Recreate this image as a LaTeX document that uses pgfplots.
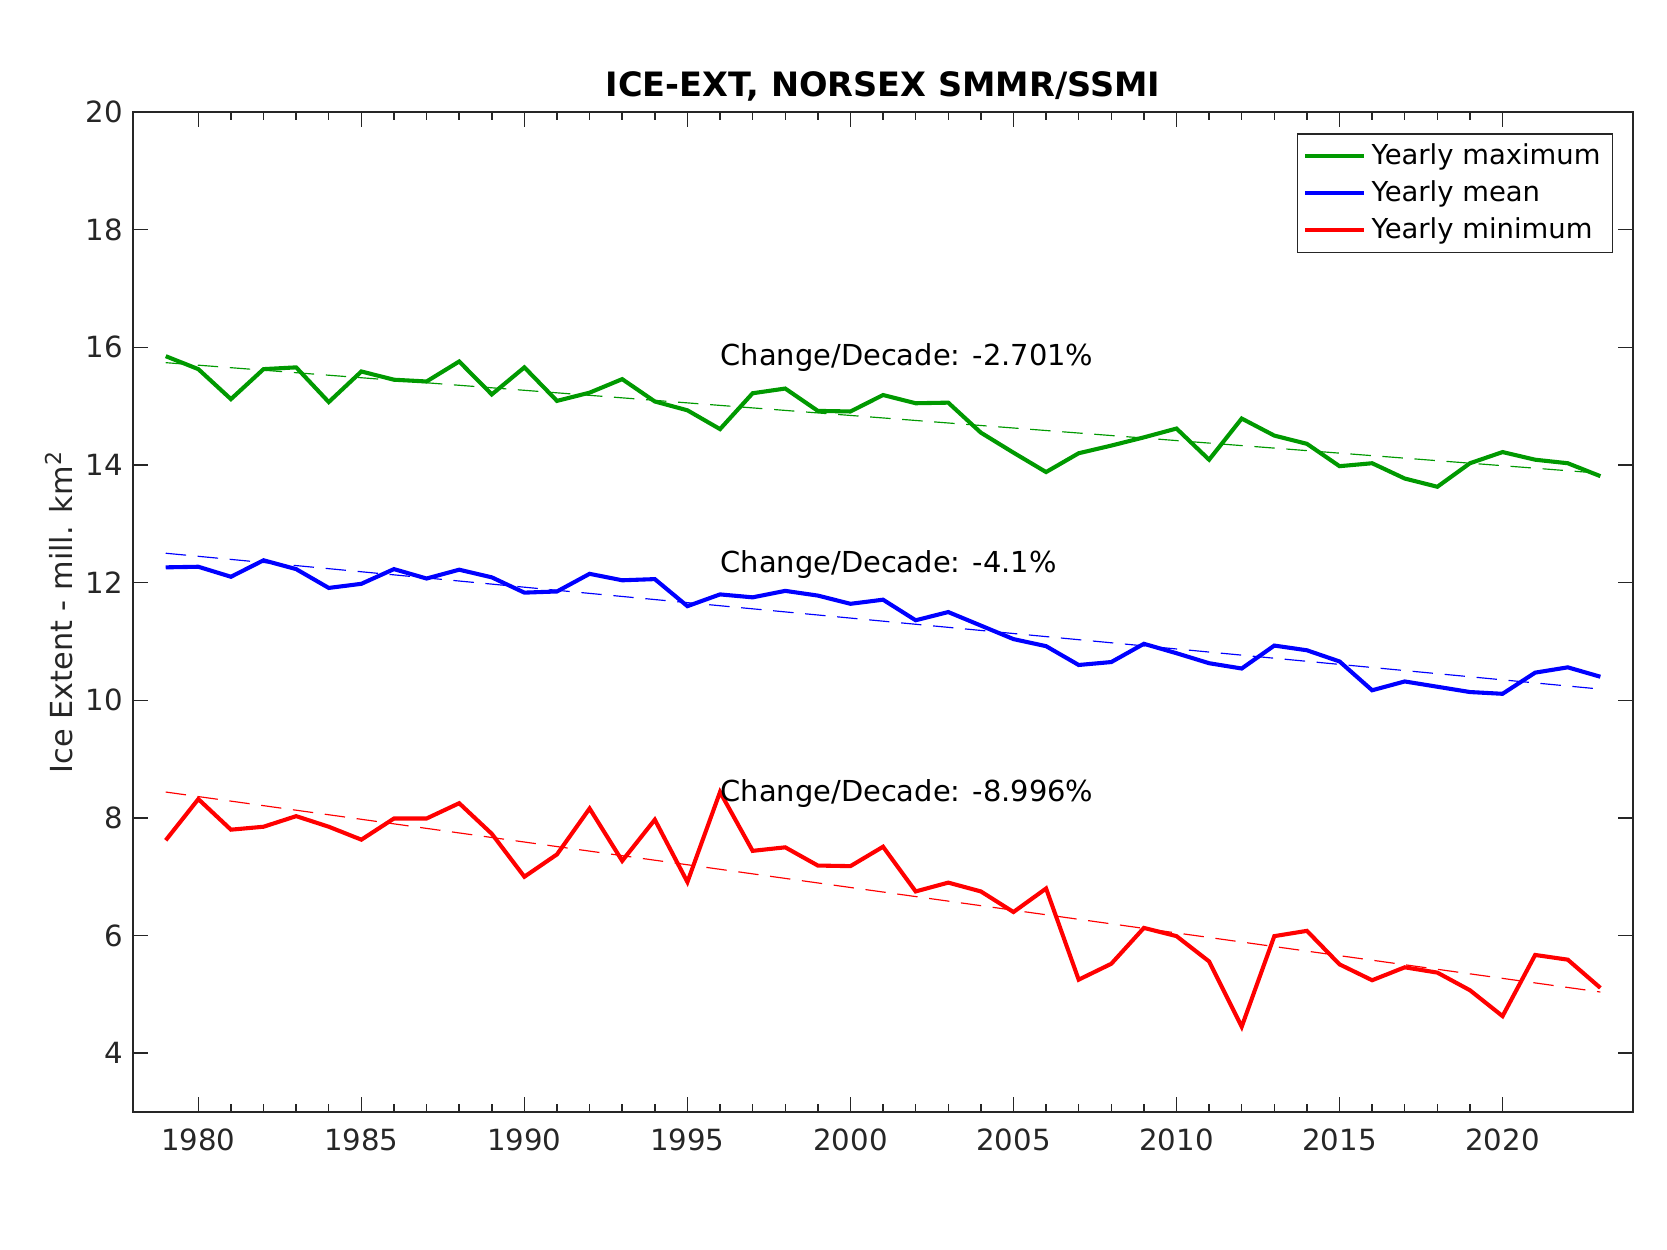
\documentclass[border=0pt]{standalone}
\usepackage{fontspec}
\setmainfont{DejaVu Sans}
\usepackage{pgfplots}
\pgfplotsset{compat=1.18}
\definecolor{mgreen}{RGB}{0,153,0}
\definecolor{axgray}{RGB}{38,38,38}
\begin{document}
\begin{tikzpicture}
\path[use as bounding box] (-45.6pt,-47.2pt) rectangle (525.4pt,380.9pt);
\begin{axis}[
  at={(0,0)}, anchor=south west,
  scale only axis, width=513.75pt, height=342.5pt,
  xmin=1978, xmax=2024, ymin=3, ymax=20,
  clip=false,
  xtick={1980,1985,...,2020}, minor x tick num=4,
  ytick={4,6,...,20},
  tick align=inside, major tick length=5.2pt, minor tick length=2.8pt,
  axis line style={axgray, line width=0.5pt},
  every tick/.style={axgray, line width=0.5pt},
  ticklabel style={font=\fontsize{10}{12}\selectfont, text=axgray},
  xticklabel style={yshift=-2.2pt},
  /pgf/number format/assume math mode=true,
  /pgf/number format/1000 sep={},
  ylabel={Ice Extent - mill. km\textsuperscript{\fontsize{7.5}{9}\selectfont 2}},
  ylabel style={font=\fontsize{10.4}{12}\selectfont, text=axgray},
  ylabel shift=-2.5pt,
  legend style={at={(1,1)}, anchor=north east, xshift=-6.85pt, yshift=-7.2pt,
    draw=axgray, line width=0.5pt, font=\fontsize{9.4}{11}\selectfont,
    cells={anchor=west, inner ysep=2.3pt}, inner xsep=2pt, inner ysep=1.4pt},
  legend image code/.code={\draw[#1, line width=1.4pt] (0pt,0pt) -- (20pt,0pt);},
]
% trend lines
\addplot[mgreen, line width=0.4pt, dash pattern=on 7pt off 4pt, forget plot] coordinates {(1979,15.74) (2023,13.86)};
\addplot[blue, line width=0.4pt, dash pattern=on 7pt off 4pt, forget plot] coordinates {(1979,12.50) (2023,10.19)};
\addplot[red, line width=0.4pt, dash pattern=on 7pt off 4pt, forget plot] coordinates {(1979,8.44) (2023,5.04)};
% yearly maximum
\addplot[mgreen, line width=1.4pt] coordinates {
(1979,15.85) (1980,15.63) (1981,15.12) (1982,15.63) (1983,15.66) (1984,15.07)
(1985,15.59) (1986,15.45) (1987,15.42) (1988,15.76) (1989,15.20) (1990,15.66)
(1991,15.09) (1992,15.23) (1993,15.46) (1994,15.08) (1995,14.93) (1996,14.61)
(1997,15.22) (1998,15.30) (1999,14.92) (2000,14.91) (2001,15.19) (2002,15.05)
(2003,15.06) (2004,14.55) (2005,14.21) (2006,13.88) (2007,14.20) (2008,14.33)
(2009,14.47) (2010,14.62) (2011,14.09) (2012,14.79) (2013,14.50) (2014,14.36)
(2015,13.98) (2016,14.03) (2017,13.77) (2018,13.63) (2019,14.03) (2020,14.22)
(2021,14.09) (2022,14.03) (2023,13.81)};
\addlegendentry{Yearly maximum}
% yearly mean
\addplot[blue, line width=1.4pt] coordinates {
(1979,12.26) (1980,12.27) (1981,12.10) (1982,12.38) (1983,12.23) (1984,11.91)
(1985,11.98) (1986,12.23) (1987,12.07) (1988,12.22) (1989,12.09) (1990,11.83)
(1991,11.85) (1992,12.15) (1993,12.04) (1994,12.06) (1995,11.60) (1996,11.80)
(1997,11.75) (1998,11.86) (1999,11.78) (2000,11.64) (2001,11.71) (2002,11.36)
(2003,11.50) (2004,11.27) (2005,11.04) (2006,10.92) (2007,10.60) (2008,10.65)
(2009,10.96) (2010,10.80) (2011,10.63) (2012,10.54) (2013,10.93) (2014,10.85)
(2015,10.66) (2016,10.17) (2017,10.32) (2018,10.23) (2019,10.14) (2020,10.11)
(2021,10.47) (2022,10.56) (2023,10.40)};
\addlegendentry{Yearly mean}
% yearly minimum
\addplot[red, line width=1.4pt] coordinates {
(1979,7.62) (1980,8.32) (1981,7.80) (1982,7.85) (1983,8.03) (1984,7.85)
(1985,7.63) (1986,7.99) (1987,7.99) (1988,8.25) (1989,7.73) (1990,7.00)
(1991,7.38) (1992,8.16) (1993,7.27) (1994,7.97) (1995,6.91) (1996,8.44)
(1997,7.44) (1998,7.50) (1999,7.19) (2000,7.18) (2001,7.51) (2002,6.75)
(2003,6.90) (2004,6.75) (2005,6.40) (2006,6.80) (2007,5.25) (2008,5.52)
(2009,6.13) (2010,5.99) (2011,5.56) (2012,4.45) (2013,5.99) (2014,6.08)
(2015,5.51) (2016,5.24) (2017,5.46) (2018,5.37) (2019,5.07) (2020,4.63)
(2021,5.67) (2022,5.59) (2023,5.11)};
\addlegendentry{Yearly minimum}
\node[anchor=base west, inner sep=0pt, font=\fontsize{9.9}{12}\selectfont] at (axis cs:1996,15.685) {Change/Decade: -2.701\%};
\node[anchor=base west, inner sep=0pt, font=\fontsize{9.9}{12}\selectfont] at (axis cs:1996,12.18) {Change/Decade: -4.1\%};
\node[anchor=base west, inner sep=0pt, font=\fontsize{9.9}{12}\selectfont] at (axis cs:1996,8.274) {Change/Decade: -8.996\%};
\node[anchor=base, inner sep=0pt, font=\fontsize{11.5}{13}\selectfont\bfseries] at ([yshift=5.5pt]rel axis cs:0.5,1) {ICE-EXT, NORSEX SMMR/SSMI};
\end{axis}
\end{tikzpicture}
\end{document}
